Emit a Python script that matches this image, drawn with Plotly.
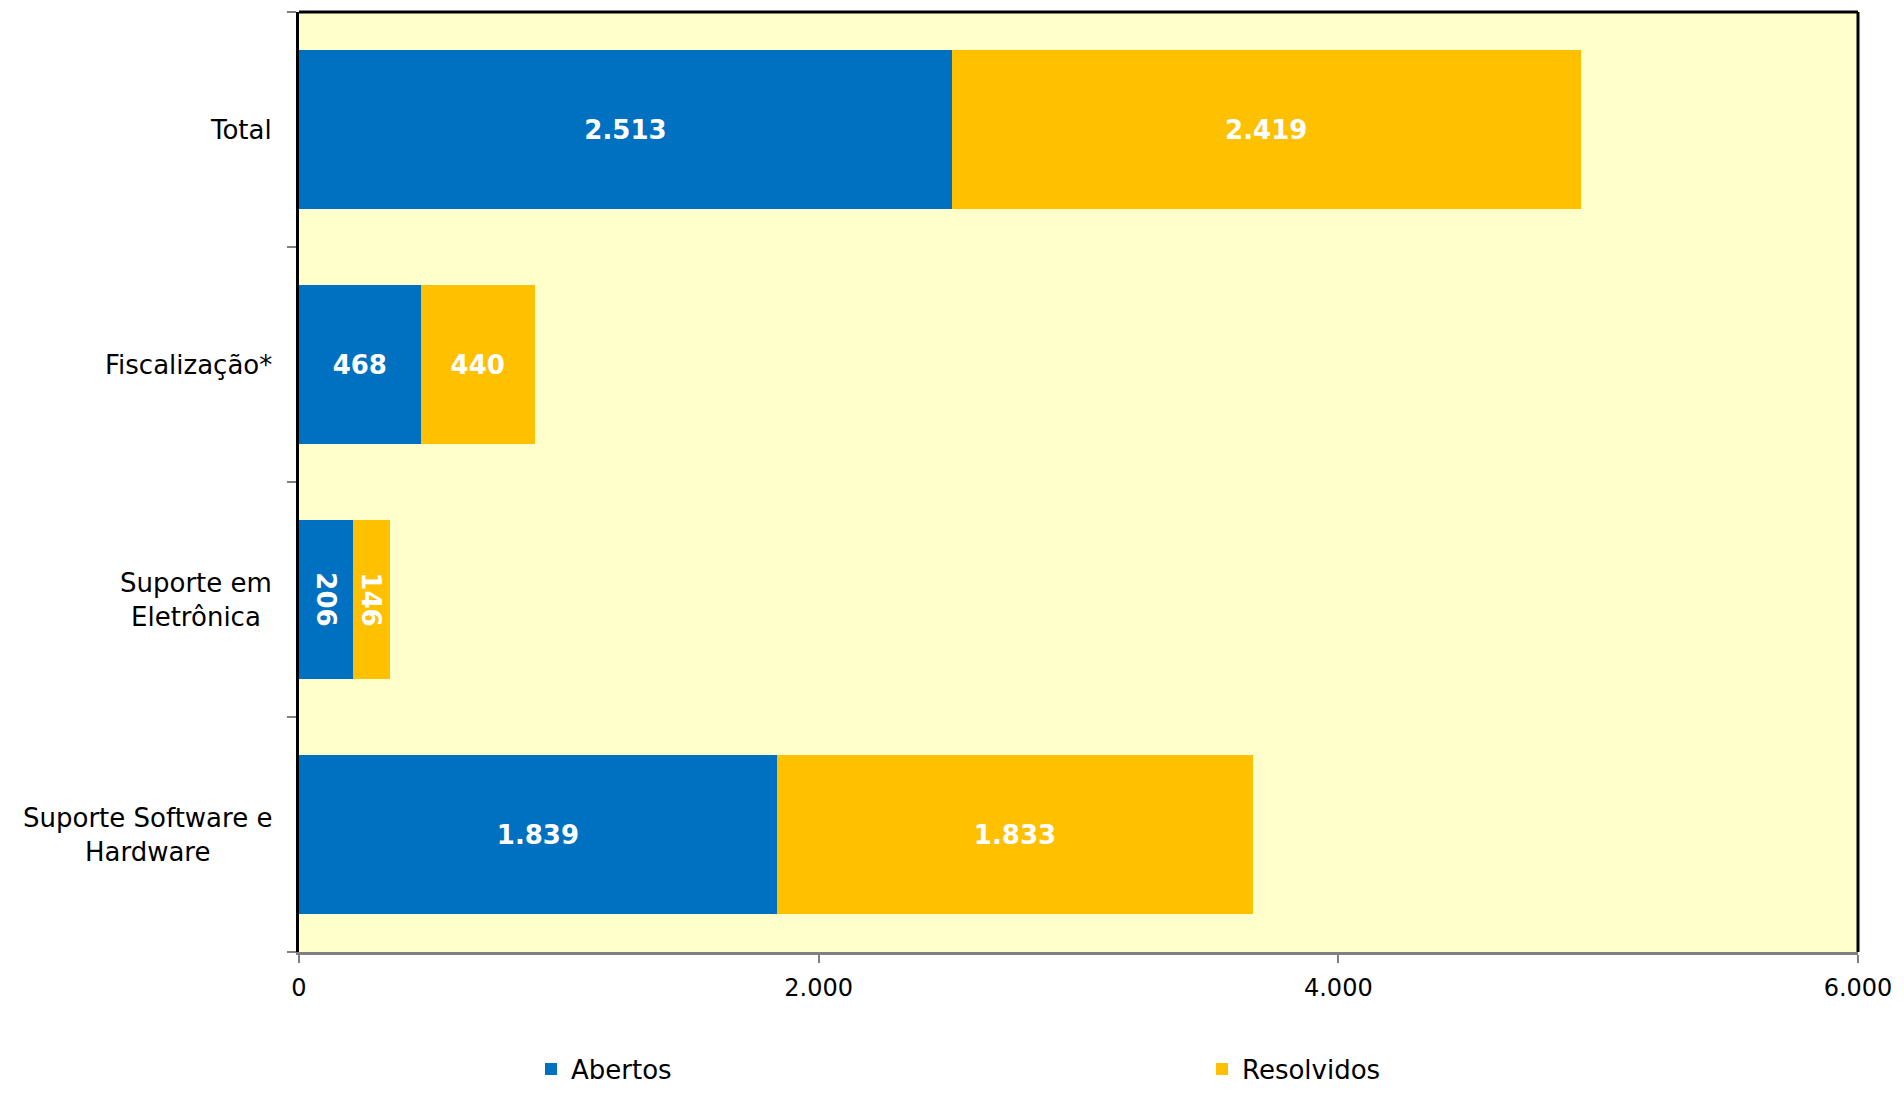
import plotly.graph_objects as go

categories = ["Suporte Software e<br>Hardware", "Suporte em<br>Eletrônica", "Fiscalização*", "Total"]
abertos = [1839, 206, 468, 2513]
resolvidos = [1833, 146, 440, 2419]
series_names = ["Abertos", "Resolvidos"]
x_ticks = [0, 2000, 4000, 6000]

FONT = "DejaVu Sans, Verdana, sans-serif"
BLUE = "#0070C0"
YELLOW = "#FFC000"

W, H = 1888, 1082

fig = go.Figure()
for name, vals, col in [(series_names[0], abertos, BLUE), (series_names[1], resolvidos, YELLOW)]:
    fig.add_trace(go.Bar(
        y=categories, x=vals, name=name, orientation="h",
        marker=dict(color=col, line=dict(width=0)),
        texttemplate="<b>%{x:,.0f}</b>", textposition="inside",
        insidetextanchor="middle",
        textfont=dict(family=FONT, size=26, color="white"),
        constraintext="none",
    ))

for c in categories:
    fig.add_annotation(x=0, xref="paper", y=c, yref="y", text=c, showarrow=False,
                       xanchor="right", xshift=-25, align="center",
                       font=dict(family=FONT, size=26, color="black"))

fig.update_layout(
    barmode="stack", bargap=0.32,
    width=W, height=H,
    margin=dict(l=291, r=34, t=4, b=138),
    plot_bgcolor="#FFFFCC", paper_bgcolor="white",
    separators=",.",
    font=dict(family=FONT, size=26, color="black"),
    legend=dict(orientation="h", xref="container", yref="container",
                x=523/W, y=21/H, xanchor="left", yanchor="middle",
                entrywidth=626, entrywidthmode="pixels", traceorder="normal",
                font=dict(family=FONT, size=26, color="black"),
                itemclick=False),
    xaxis=dict(range=[0, 6000], tickvals=x_ticks, tickformat=",.0f",
               showgrid=False, zeroline=False, showline=True, linecolor="#808080", linewidth=3,
               ticks="outside", ticklen=8, tickcolor="#808080", tickwidth=2,
               ticklabeloverflow="allow", ticklabelstandoff=4,
               tickfont=dict(family=FONT, size=24, color="black")),
    yaxis=dict(categoryorder="array", categoryarray=categories,
               showgrid=False, zeroline=False, showline=True, linecolor="black", linewidth=3,
               ticks="outside", ticklen=9, tickcolor="#808080", tickwidth=2,
               tickson="boundaries", showticklabels=False),
    shapes=[
        dict(type="line", xref="paper", yref="paper", x0=0, x1=1, y0=1, y1=1,
             line=dict(color="black", width=3)),
        dict(type="line", xref="paper", yref="paper", x0=1, x1=1, y0=0, y1=1,
             line=dict(color="black", width=3)),
    ],
)

fig.write_html("out.html")
